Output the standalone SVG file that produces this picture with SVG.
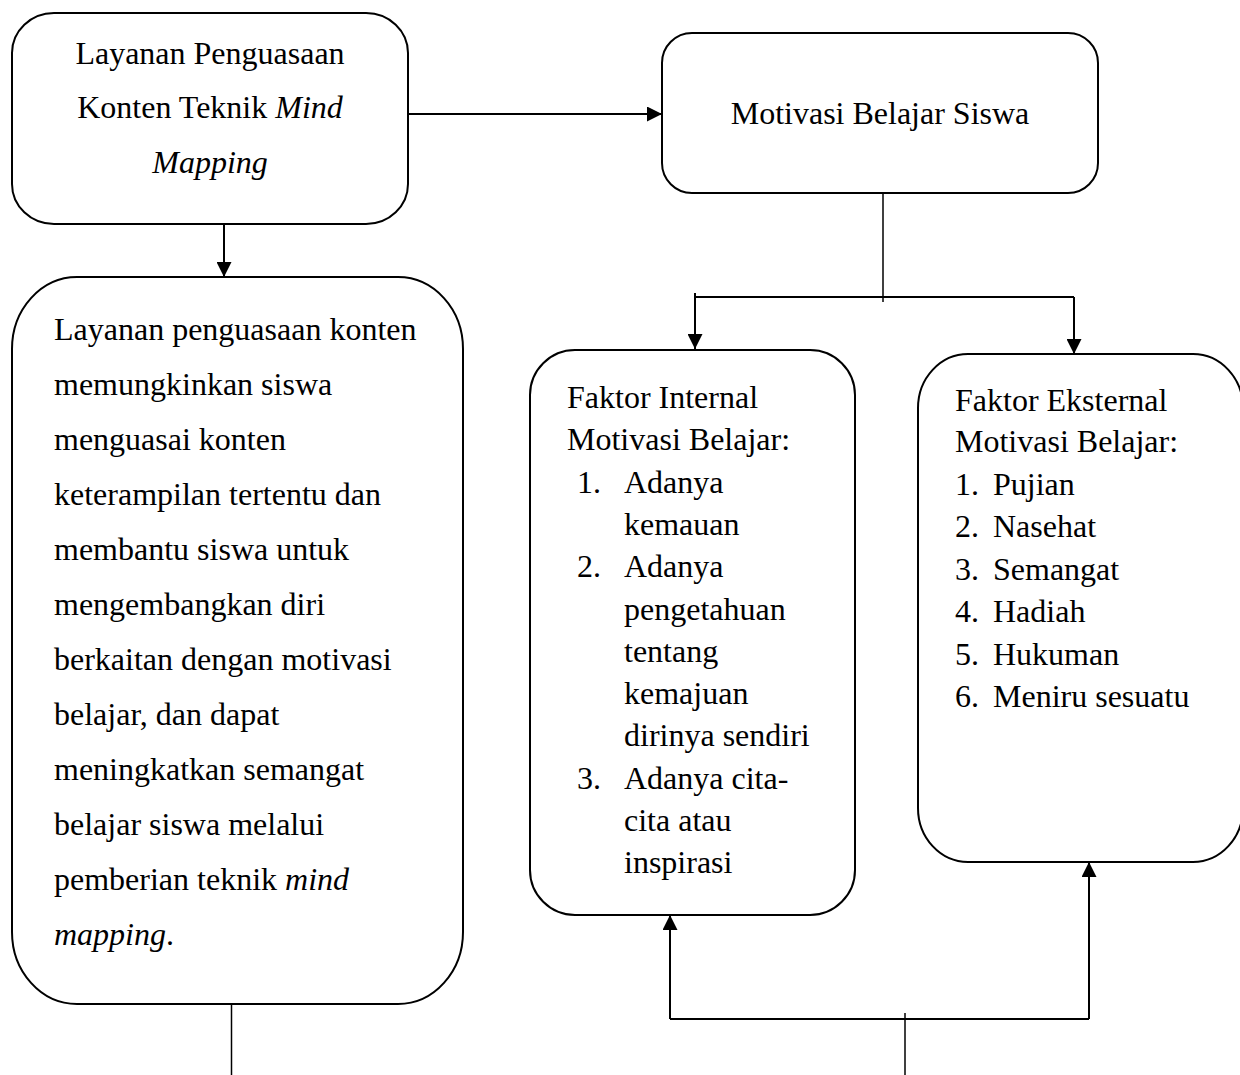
<svg xmlns="http://www.w3.org/2000/svg" width="1240" height="1075" viewBox="0 0 1240 1075">
<style>
.box{fill:#fff;stroke:#000;stroke-width:2}
.t{font-family:"Liberation Serif","Times New Roman",serif;font-size:32px;fill:#000}
.c{text-anchor:middle}
.ln{fill:none;stroke:#000;stroke-width:2}
.thin{fill:none;stroke:#000;stroke-width:1.5}
</style>
<defs>
<marker id="ah" viewBox="0 0 15 15" refX="15" refY="7.5" markerWidth="15" markerHeight="15" markerUnits="userSpaceOnUse" orient="auto">
<path d="M0,0 L15,7.5 L0,15 Z" fill="#000"/>
</marker>
</defs>
<rect width="1240" height="1075" fill="#fff"/>

<g id="connectors">
<line class="ln" x1="408" y1="114" x2="662" y2="114" marker-end="url(#ah)"/>
<line class="ln" x1="224" y1="224" x2="224" y2="277" marker-end="url(#ah)"/>
<line class="thin" x1="883" y1="193" x2="883" y2="302"/>
<polyline class="ln" points="695,293 695,297 1074,297"/>
<line class="ln" x1="695" y1="297" x2="695" y2="349" marker-end="url(#ah)"/>
<line class="ln" x1="1074" y1="297" x2="1074" y2="354" marker-end="url(#ah)"/>
<line class="thin" x1="231.5" y1="998" x2="231.5" y2="1075"/>
<line class="ln" x1="670" y1="1019" x2="1089" y2="1019"/>
<line class="ln" x1="670" y1="1019" x2="670" y2="915" marker-end="url(#ah)"/>
<line class="ln" x1="1089" y1="1019" x2="1089" y2="862" marker-end="url(#ah)"/>
<line class="thin" x1="905" y1="1013" x2="905" y2="1075"/>
</g>

<g id="node-layanan">
<rect class="box" x="12" y="13" width="396" height="211" rx="42" ry="40"/>
<text class="t c" x="210" y="64">Layanan Penguasaan</text>
<text class="t c" x="210" y="118">Konten Teknik <tspan font-style="italic">Mind</tspan></text>
<text class="t c" x="210" y="173" font-style="italic">Mapping</text>
</g>

<g id="node-motivasi">
<rect class="box" x="662" y="33" width="436" height="160" rx="30" ry="30"/>
<text class="t c" x="880" y="124">Motivasi Belajar Siswa</text>
</g>

<g id="node-deskripsi">
<rect class="box" x="12" y="277" width="451" height="727" rx="65" ry="72"/>
<text class="t" x="54" y="340">Layanan penguasaan konten</text>
<text class="t" x="54" y="395">memungkinkan siswa</text>
<text class="t" x="54" y="450">menguasai konten</text>
<text class="t" x="54" y="505">keterampilan tertentu dan</text>
<text class="t" x="54" y="560">membantu siswa untuk</text>
<text class="t" x="54" y="615">mengembangkan diri</text>
<text class="t" x="54" y="670">berkaitan dengan motivasi</text>
<text class="t" x="54" y="725">belajar, dan dapat</text>
<text class="t" x="54" y="780">meningkatkan semangat</text>
<text class="t" x="54" y="835">belajar siswa melalui</text>
<text class="t" x="54" y="890">pemberian teknik <tspan font-style="italic">mind</tspan></text>
<text class="t" x="54" y="945"><tspan font-style="italic">mapping</tspan>.</text>
</g>

<g id="node-internal">
<rect class="box" x="530" y="350" width="325" height="565" rx="45" ry="45"/>
<text class="t" x="567" y="408">Faktor Internal</text>
<text class="t" x="567" y="450">Motivasi Belajar:</text>
<text class="t" x="577" y="493">1.</text>
<text class="t" x="624" y="493">Adanya</text>
<text class="t" x="624" y="535">kemauan</text>
<text class="t" x="577" y="577">2.</text>
<text class="t" x="624" y="577">Adanya</text>
<text class="t" x="624" y="620">pengetahuan</text>
<text class="t" x="624" y="662">tentang</text>
<text class="t" x="624" y="704">kemajuan</text>
<text class="t" x="624" y="746">dirinya sendiri</text>
<text class="t" x="577" y="789">3.</text>
<text class="t" x="624" y="789">Adanya cita-</text>
<text class="t" x="624" y="831">cita atau</text>
<text class="t" x="624" y="873">inspirasi</text>
</g>

<g id="node-eksternal">
<rect class="box" x="918" y="354" width="325" height="508" rx="50" ry="54"/>
<text class="t" x="955" y="411">Faktor Eksternal</text>
<text class="t" x="955" y="452">Motivasi Belajar:</text>
<text class="t" x="955" y="495">1.</text><text class="t" x="993" y="495">Pujian</text>
<text class="t" x="955" y="537">2.</text><text class="t" x="993" y="537">Nasehat</text>
<text class="t" x="955" y="580">3.</text><text class="t" x="993" y="580">Semangat</text>
<text class="t" x="955" y="622">4.</text><text class="t" x="993" y="622">Hadiah</text>
<text class="t" x="955" y="665">5.</text><text class="t" x="993" y="665">Hukuman</text>
<text class="t" x="955" y="707">6.</text><text class="t" x="993" y="707">Meniru sesuatu</text>
</g>
</svg>
